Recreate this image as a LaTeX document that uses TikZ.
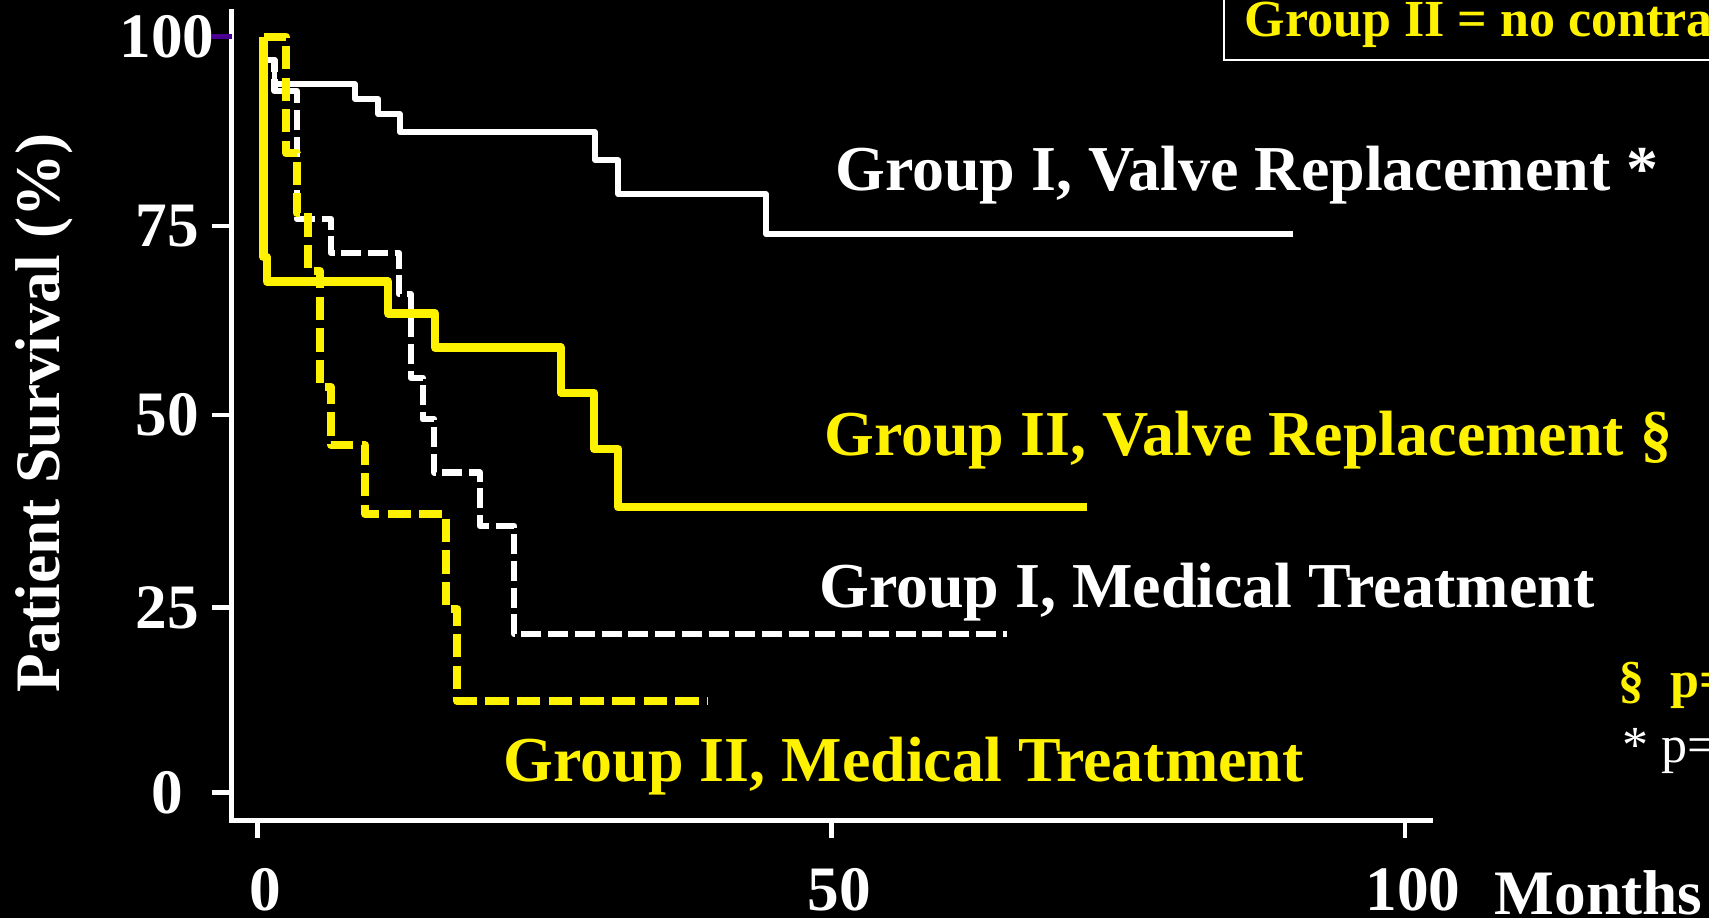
\documentclass[tikz,border=0pt]{standalone}
\usepackage{fontspec}
\setmainfont{Liberation Serif}

\definecolor{tickpurple}{RGB}{75,0,145}

\tikzset{
  axisline/.style={white, line width=1.35pt},
  groupone/.style={white, line width=1.6pt, line join=round},
  grouptwo/.style={yellow, line width=2.35pt, line join=round},
  medone/.style={groupone, line width=1.8pt, dash pattern=on 5.7pt off 1.9pt},
  medtwo/.style={grouptwo, dash pattern=on 6.6pt off 2.4pt},
  ticklabel/.style={white, font=\fontsize{18}{21}\selectfont\bfseries, inner sep=0pt},
  curvelabel/.style={font=\fontsize{18.2}{21}\selectfont\bfseries, anchor=base west, inner sep=0pt},
  legendlabel/.style={font=\fontsize{14.8}{17}\selectfont\bfseries, anchor=base west, inner sep=0pt}
}

\begin{document}
\begin{tikzpicture}[x=0.01cm, y=-0.01cm]
    \fill[black] (0,0) rectangle (1709,918);
    \useasboundingbox (0,0) rectangle (1709,918);
    \clip (0,0) rectangle (1709,918);

    % axes and ticks
    \draw[axisline] (231.5,9) -- (231.5,820.5) -- (1433,820.5);
    \foreach \v/\y/\c in {100/36.7/tickpurple, 75/226/white, 50/415/white, 25/607.5/white, 0/792.3/white}{
      \draw[axisline, \c] (212,\y) -- (231.5,\y);
      \node[ticklabel] (ylab\v) at (167,\y) {\v};
    }
    \foreach \m/\x in {0/257.3, 50/831.2, 100/1405}{
      \draw[axisline] (\x,820.5) -- (\x,838);
      \node[ticklabel] (xlab\m) at (\x+8,890) {\m};
    }
    \node[ticklabel, anchor=base west] (months) at (1494,914) {Months};
    \node[ticklabel, rotate=90, anchor=base] (ytitle) at (60,413) {Patient Survival (\%)};

    %%%%%%%%%%%%%%%%%%%%%%%%%%%%%%%%%%%%

    % Group I
    \draw[groupone] (263.5,36.7) -- (263.5,60) -| (274.5,84.3) -| (355,99) -| (378.3,114.3)
      -| (400,132.3) -| (595,160) -| (618.3,194.3) -| (766,234.3) -- (1293,234.3);
    \draw[medone] (263.5,36.7) -- (263.5,60) -| (274.5,91) -| (297,219) -| (331,253)
      -| (399,294) -| (410.7,377.7) -| (422.7,419.3) -| (434.3,472.5) -| (480,526)
      -| (514.3,634) -- (1006.7,634);

    % Group II
    \draw[medtwo] (263.5,36.7) -| (286,153.3) -| (296.7,213.3) -| (308.3,271) -| (320,387)
      -| (331,445) -| (365,514) -| (446,609) -| (457.3,701) -- (708.3,701);
    \draw[grouptwo] (263.5,36.7) -- (263.5,257) -| (266.7,281.5) -| (388.3,313.5)
      -| (435,347.5) -| (561,392.7) -| (594,449) -| (618.3,507.3) -- (1086.7,507.3);

    %%%%%%%%%%%%%%%%%%%%%%%%%%%%%%%%%%%%

    \node[curvelabel, white] (lblvalveone) at (834.5,190.7) {Group I, Valve Replacement *};
    \node[curvelabel, yellow] (lblvalvetwo) at (823.5,455.5) {Group II, Valve Replacement \S};
    \node[curvelabel, white] (lblmedone) at (818.5,607.3) {Group I, Medical Treatment};
    \node[curvelabel, yellow] (lblmedtwo) at (503,781.7) {Group II, Medical Treatment};

    % legend box and p values, running past the right edge
    \draw[white, line width=0.7pt] (1224,-50) rectangle (1760,60);
    \node[legendlabel, yellow] (boxtext) at (1244,36.7) {Group II = no contra};
    \node[legendlabel, yellow] (pvaltwo) at (1618,697) {\S\ \ p=};
    \node[legendlabel, white, font=\fontsize{14.8}{17}\selectfont] (pvalone) at (1622,762) {* p=};

\end{tikzpicture}
\end{document}
